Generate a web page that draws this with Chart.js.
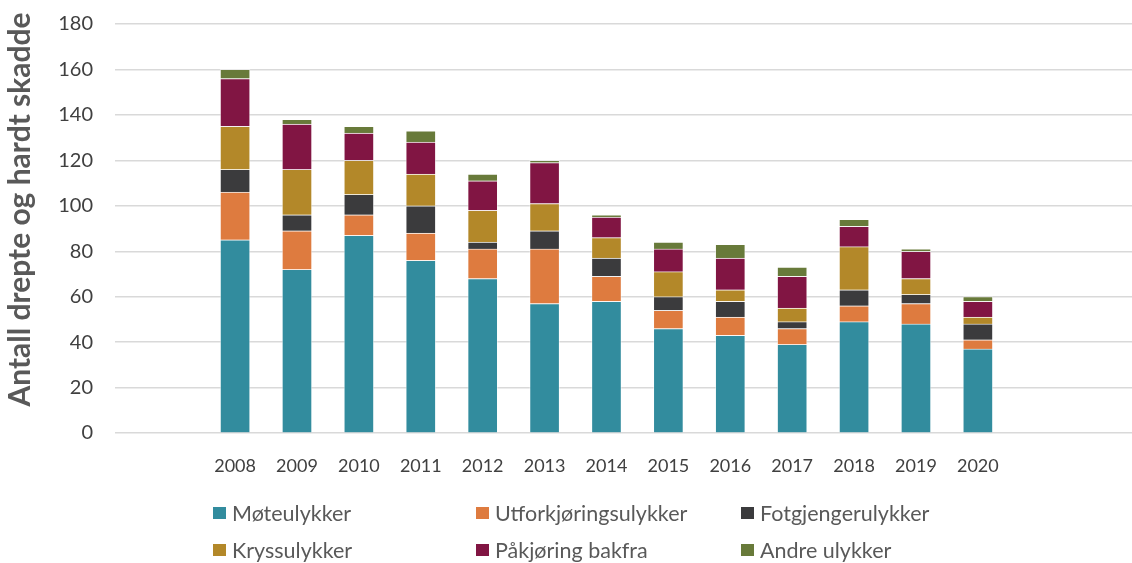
<!DOCTYPE html>
<html>
<head>
<meta charset="utf-8">
<script src="https://cdn.jsdelivr.net/npm/chart.js@4.4.0/dist/chart.umd.min.js"></script>
<style>
    body { margin: 0; background: #ffffff; }
    #wrap { position: relative; width: 1132px; height: 563px; overflow: hidden; }
    #legend {
        position: absolute; left: 213px; top: 501px;
        display: grid; grid-template-columns: 263px 265px 260px; row-gap: 13px;
        font-family: Lato, sans-serif; font-size: 21.5px; color: #595959;
    }
    #legend .item { display: flex; align-items: center; height: 24px; white-space: nowrap; }
    #legend .box { width: 13px; height: 12px; margin-right: 6px; }
</style>
</head>
<body>
<div id="wrap">
    <canvas id="myChart" width="1132" height="563"></canvas>
    <div id="legend"></div>
</div>
<script>
const years = [2008, 2009, 2010, 2011, 2012, 2013, 2014, 2015, 2016, 2017, 2018, 2019, 2020];

const seriesNames = ["Møteulykker", "Utforkjøringsulykker", "Fotgjengerulykker", "Kryssulykker", "Påkjøring bakfra", "Andre ulykker"];
const seriesColors = ["#328c9e", "#de7b3f", "#3b3b3d", "#b38829", "#811543", "#687a3a"];

const moteulykker = [85, 72, 87, 76, 68, 57, 58, 46, 43, 39, 49, 48, 37];
const utforkjoring = [21, 17, 9, 12, 13, 24, 11, 8, 8, 7, 7, 9, 4];
const fotgjenger = [10, 7, 9, 12, 3, 8, 8, 6, 7, 3, 7, 4, 7];
const kryss = [19, 20, 15, 14, 14, 12, 9, 11, 5, 6, 19, 7, 3];
const pakjoring = [21, 20, 12, 14, 13, 18, 9, 10, 14, 14, 9, 12, 7];
const andre = [4, 2, 3, 5, 3, 1, 1, 3, 6, 4, 3, 1, 2];

const yTicks = [0, 20, 40, 60, 80, 100, 120, 140, 160, 180];
const yTitle = "Antall drepte og hardt skadde";

const allSeries = [moteulykker, utforkjoring, fotgjenger, kryss, pakjoring, andre];

let chart;

// y-axis title drawn by hand: Excel puts it a bit above the plot centre
const yTitlePlugin = {
    id: 'yTitle',
    afterDraw(c)
    {
        const ctx = c.ctx;
        const area = c.chartArea;
        ctx.save();
        ctx.translate(20.5, (area.top + area.bottom) / 2 - 19);
        ctx.rotate(-Math.PI / 2);
        ctx.font = "bold 30px Lato";
        ctx.fillStyle = "#595959";
        ctx.textAlign = "center";
        ctx.textBaseline = "middle";
        ctx.fillText(yTitle, 0, 0);
        ctx.restore();
    }
};

function InitializeChart()
{
    const datasets = allSeries.map((values, i) => ({
        label: seriesNames[i],
        data: values.map((v, j) => ({ x: years[j], y: v })),
        backgroundColor: seriesColors[i],
        borderColor: "rgba(255,255,255,0.45)",
        borderWidth: 1,
        barThickness: 30
    }));

    chart = new Chart(document.getElementById("myChart"), {
        type: 'bar',
        data: { datasets: datasets },
        plugins: [yTitlePlugin],
        options: {
            responsive: false,
            animation: false,
            layout: { padding: { top: 24, left: 0, right: 0, bottom: 0 } },
            plugins: {
                legend: { display: false },
                tooltip: { enabled: false }
            },
            scales: {
                x: {
                    type: 'linear',
                    stacked: true,
                    offset: false,
                    min: 2006.06,
                    max: 2022.49,
                    grid: { display: false },
                    border: { display: false },
                    afterFit: function (scale) { scale.height = 130; },
                    ticks: {
                        stepSize: 1,
                        autoSkip: false,
                        includeBounds: false,
                        maxRotation: 0,
                        padding: 14,
                        color: '#404040',
                        font: { family: 'Lato', size: 18 },
                        callback: function (value)
                        {
                            return years.includes(value) ? String(value) : '';
                        }
                    }
                },
                y: {
                    stacked: true,
                    min: yTicks[0],
                    max: yTicks[yTicks.length - 1],
                    afterFit: function (scale) { scale.width = 115; },
                    grid: {
                        color: '#d9d9d9',
                        lineWidth: 1.4,
                        drawTicks: true,
                        tickLength: 22,
                        tickColor: 'rgba(0,0,0,0)'
                    },
                    border: { display: false },
                    ticks: {
                        stepSize: 20,
                        padding: 0,
                        color: '#404040',
                        font: { family: 'Lato', size: 20 }
                    }
                }
            }
        }
    });
}

function BuildLegend()
{
    const legend = document.getElementById("legend");
    seriesNames.forEach((name, i) =>
    {
        const item = document.createElement("div");
        item.className = "item";
        const box = document.createElement("span");
        box.className = "box";
        box.style.background = seriesColors[i];
        const text = document.createElement("span");
        text.textContent = name;
        item.appendChild(box);
        item.appendChild(text);
        legend.appendChild(item);
    });
}

InitializeChart();
BuildLegend();
</script>
</body>
</html>
